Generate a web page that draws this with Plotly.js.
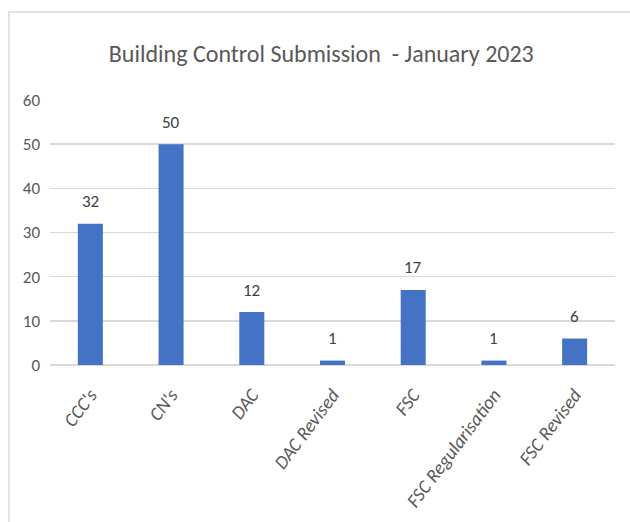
<!DOCTYPE html>
<html>
<head>
<meta charset="utf-8">
<script src="https://cdn.plot.ly/plotly-3.0.1.min.js"></script>
<style>
  html, body { margin: 0; padding: 0; background: #fff; }
  #chart { width: 630px; height: 522px; }
</style>
</head>
<body>
<div id="chart"></div>
<script>
const categories = ["CCC's", "CN's", "DAC", "DAC Revised", "FSC", "FSC Regularisation", "FSC Revised"];
const submissions = [32, 50, 12, 1, 17, 1, 6];
const yTicks = [0, 10, 20, 30, 40, 50, 60];
const chartTitle = "Building Control Submission  - January 2023";

const FONT = "Carlito, Calibri, 'Open Sans', sans-serif";
const TEXT_COLOR = "#595959";

const trace = {
  type: "bar",
  x: categories,
  y: submissions,
  marker: { color: "#4472C4" },
  hoverinfo: "x+y",
  cliponaxis: false
};

const annotations = categories.map((c, i) => ({
  x: c,
  y: submissions[i],
  xref: "x",
  yref: "y",
  text: String(submissions[i]),
  showarrow: false,
  yanchor: "middle",
  yshift: 22,
  font: { family: FONT, size: 17, color: "#404040" }
}));

const layout = {
  width: 630,
  height: 522,
  margin: { l: 50, r: 15, t: 100, b: 157 },
  paper_bgcolor: "#ffffff",
  plot_bgcolor: "#ffffff",
  bargap: 0.69,
  showlegend: false,
  title: {
    text: chartTitle,
    font: { family: FONT, size: 24, color: TEXT_COLOR },
    x: 0.51,
    xanchor: "center",
    y: 0.898,
    yanchor: "middle"
  },
  xaxis: {
    type: "category",
    tickvals: categories,
    ticktext: categories.map(c => "<i>" + c + "</i>"),
    tickangle: -53,
    tickfont: { family: FONT, size: 19, color: TEXT_COLOR, style: "italic" },
    showgrid: false,
    showline: false,
    ticks: "",
    zeroline: false,
    ticklabelstandoff: 14
  },
  yaxis: {
    range: [0, 60],
    tickvals: yTicks,
    ticktext: yTicks.map(String),
    tickfont: { family: FONT, size: 17, color: TEXT_COLOR },
    gridcolor: "#d9d9d9",
    gridwidth: 1.5,
    zeroline: true,
    zerolinecolor: "#d9d9d9",
    zerolinewidth: 1.5,
    showline: false,
    ticks: "",
    ticklabelstandoff: 9,
    fixedrange: true
  },
  annotations: annotations,
  shapes: [
    {
      type: "path",
      xref: "paper",
      yref: "paper",
      path: "M -0.0726,-0.65 L -0.0726,1.332 L 1.06,1.332",
      line: { color: "#d9d9d9", width: 1.5 }
    }
  ]
};

Plotly.newPlot("chart", [trace], layout, { displayModeBar: false, staticPlot: true });
</script>
</body>
</html>
